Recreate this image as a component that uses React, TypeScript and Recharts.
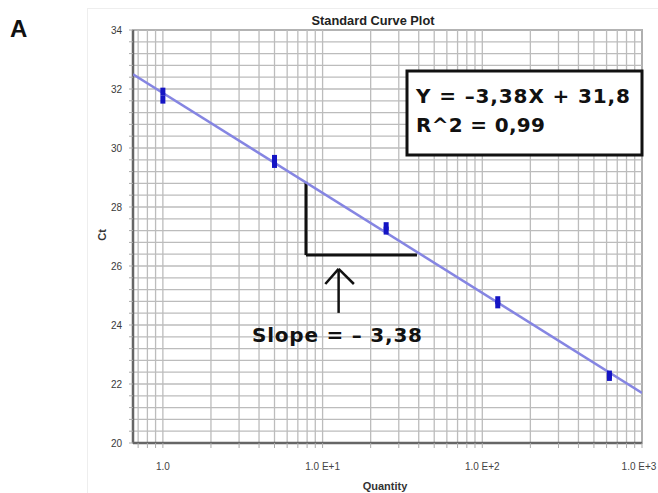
import {
  ComposedChart,
  Scatter,
  XAxis,
  YAxis,
  ReferenceLine,
  ReferenceArea,
} from "recharts";

// standard curve: quantity vs Ct, two replicates per dilution
const quantities = [1, 5, 25, 125, 625];
const ctRep1 = [31.91, 29.63, 27.35, 24.84, 22.32];
const ctRep2 = [31.64, 29.46, 27.2, 24.7, 22.24];

// fitted line, read at the plot edges
const fitX = [0.65, 1000];
const fitCt = [32.5, 21.7];

const xMajorTicks = [1, 10, 100, 1000];
const xTickLabels = ["1.0", "1.0 E+1", "1.0 E+2", "1.0 E+3"];
const yTickLabels = [20, 22, 24, 26, 28, 30, 32, 34];

const X_DOMAIN: [number, number] = [0.65, 1000];
const Y_DOMAIN: [number, number] = [20, 34];

// log grid: 0.7..0.9 then 1..9 per decade
const xGrid: number[] = [0.7, 0.8, 0.9];
for (const d of [1, 10, 100]) for (let k = 1; k <= 9; k++) xGrid.push(k * d);
xGrid.push(1000);

const yGrid: number[] = [];
for (let i = 0; i <= 35; i++) yGrid.push(Math.round((20 + i * 0.4) * 10) / 10);

const points = quantities.flatMap((q, i) => [
  { x: q, y: ctRep1[i] },
  { x: q, y: ctRep2[i] },
]);
const fitLine = fitX.map((x, i) => ({ x, y: fitCt[i] }));

const yLabel = (v: number) => (yTickLabels.includes(v) ? String(v) : "");

const XTick = (p: any) => {
  const i = xMajorTicks.indexOf(p.payload.value);
  if (i < 0) return <g />;
  // last label sits on the right edge, nudge it in a bit
  const dx = i === xMajorTicks.length - 1 ? -3 : 0;
  return (
    <text x={p.x + dx} y={p.y + 10} textAnchor="middle" fontSize={10} fill="#444" fontFamily="Liberation Sans">
      {xTickLabels[i]}
    </text>
  );
};

const Marker = (p: any) => (
  <rect x={p.cx - 2.5} y={p.cy - 4} width={5} height={8} fill="#1414c4" />
);

const ink = { stroke: "#111", strokeWidth: 3 };
const gridStroke = "#bcbcbc";

export default function App() {
  return (
    <div style={{ position: "relative", width: 658, height: 493, background: "#fff", overflow: "hidden" }}>
      <style>{`body{margin:0}`}</style>
      <div style={{ position: "absolute", left: 87, top: 8, width: 571, height: 485, borderLeft: "1px solid #eee", borderTop: "1px solid #eee" }} />
      <ComposedChart
        width={658}
        height={493}
        margin={{ top: 30, right: 16, left: 0, bottom: 0 }}
        style={{ position: "absolute", left: 0, top: 0 }}
      >
        <XAxis
          dataKey="x"
          type="number"
          scale="log"
          domain={X_DOMAIN}
          allowDataOverflow
          ticks={xGrid}
          interval={0}
          tick={<XTick />}
          height={50}
          tickSize={5}
          tickMargin={12}
          axisLine={{ stroke: "#666", strokeWidth: 2.5 }}
          tickLine={{ stroke: "#aaa" }}
        />
        <YAxis
          dataKey="y"
          type="number"
          domain={Y_DOMAIN}
          allowDataOverflow
          ticks={yGrid}
          interval={0}
          tickFormatter={yLabel}
          width={133}
          tickSize={4}
          tickMargin={7}
          tick={{ fontSize: 10, fill: "#3a3a3a", fontFamily: "Liberation Sans" }}
          axisLine={{ stroke: "#666", strokeWidth: 2.5 }}
          tickLine={{ stroke: "#aaa" }}
        />
        {yGrid.map((v) => (
          <ReferenceLine key={"h" + v} y={v} stroke={gridStroke} strokeWidth={1.3} />
        ))}
        {xGrid.map((v) => (
          <ReferenceLine key={"v" + v} x={v} stroke={gridStroke} strokeWidth={1.3} />
        ))}
        <ReferenceArea x1={X_DOMAIN[0]} x2={X_DOMAIN[1]} y1={Y_DOMAIN[0]} y2={Y_DOMAIN[1]} fill="none" stroke="#777" strokeWidth={1.5} />

        {/* slope triangle and arrow */}
        <ReferenceLine segment={[{ x: 7.87, y: 28.85 }, { x: 7.87, y: 26.37 }]} {...ink} />
        <ReferenceLine segment={[{ x: 7.87, y: 26.37 }, { x: 39, y: 26.37 }]} {...ink} />
        <ReferenceLine segment={[{ x: 12.6, y: 25.9 }, { x: 12.6, y: 24.41 }]} stroke="#111" strokeWidth={2.5} />
        <ReferenceLine segment={[{ x: 12.6, y: 25.9 }, { x: 10.4, y: 25.39 }]} stroke="#111" strokeWidth={2.5} />
        <ReferenceLine segment={[{ x: 12.6, y: 25.9 }, { x: 15.7, y: 25.39 }]} stroke="#111" strokeWidth={2.5} />

        <Scatter
          data={fitLine}
          line={{ stroke: "#8585e2", strokeWidth: 2.5 }}
          shape={() => <g />}
          isAnimationActive={false}
        />
        <Scatter data={points} shape={Marker} isAnimationActive={false} />
      </ComposedChart>

      <svg width={658} height={493} style={{ position: "absolute", left: 0, top: 0, pointerEvents: "none" }}>
        <text x={10} y={37} fontFamily="Liberation Sans" fontWeight="bold" fontSize={24} fill="#111">A</text>
        <text x={373} y={25} textAnchor="middle" fontFamily="Liberation Sans" fontWeight="bold" fontSize={13} fill="#222" textLength={123} lengthAdjust="spacingAndGlyphs">
          Standard Curve Plot
        </text>
        <text x={0} y={0} transform="translate(106,235) rotate(-90)" textAnchor="middle" fontFamily="Liberation Sans" fontWeight="bold" fontSize={11} fill="#333">Ct</text>
        <text x={385} y={490} textAnchor="middle" fontFamily="Liberation Sans" fontWeight="bold" fontSize={11} fill="#333">Quantity</text>

        <rect x={407} y={71} width={235} height={84} fill="#fff" stroke="#111" strokeWidth={3} />
        <text x={416} y={103} fontFamily="DejaVu Sans" fontWeight="bold" fontSize={20} fill="#111" textLength={214} lengthAdjust="spacing">Y = –3,38X + 31,8</text>
        <text x={416} y={132} fontFamily="DejaVu Sans" fontWeight="bold" fontSize={20} fill="#111" textLength={129} lengthAdjust="spacing">R^2 = 0,99</text>
        <text x={252} y={342} fontFamily="DejaVu Sans" fontWeight="bold" fontSize={20} fill="#111" textLength={170} lengthAdjust="spacing">Slope = – 3,38</text>
      </svg>
    </div>
  );
}
